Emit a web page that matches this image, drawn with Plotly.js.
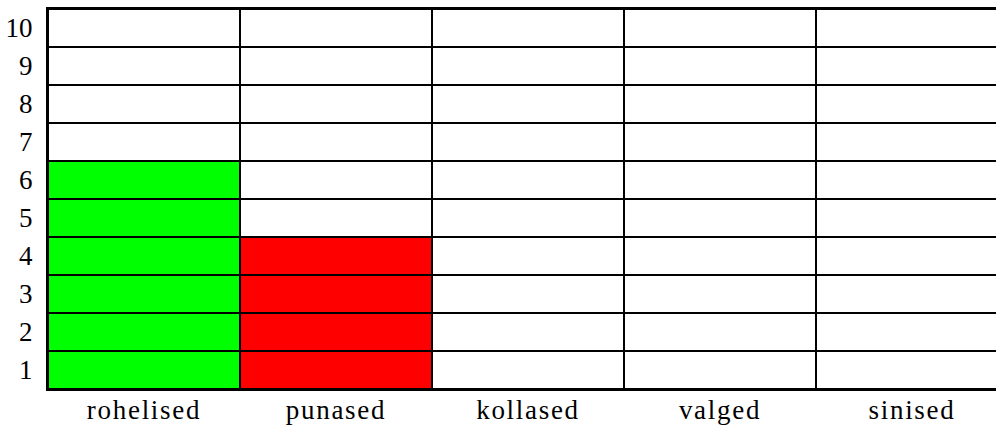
<!DOCTYPE html>
<html>
<head>
<meta charset="utf-8">
<script src="https://cdn.plot.ly/plotly-3.0.1.min.js"></script>
<style>
html,body{margin:0;padding:0;background:#fff;overflow:hidden;}
.xtick text{letter-spacing:1.7px;}
</style>
</head>
<body>
<div id="chart" style="width:996px;height:425px;"></div>
<script>
// Data
var categories = ['rohelised', 'punased', 'kollased', 'valged', 'sinised'];
var values = [6, 4, 0, 0, 0];
var colors = ['#00ff00', '#ff0000', '#ffff00', '#ffffff', '#0000ff'];
var rowLabels = ['1', '2', '3', '4', '5', '6', '7', '8', '9', '10'];

var traces = [];
for (var r = 0; r < rowLabels.length; r++) {
  var cellColors = categories.map(function (c, i) {
    return (r < values[i]) ? colors[i] : '#ffffff';
  });
  traces.push({
    type: 'bar',
    x: categories,
    y: categories.map(function () { return 1; }),
    marker: { color: cellColors, line: { color: '#000', width: 2 } },
    hoverinfo: 'skip',
    showlegend: false
  });
}

var layout = {
  width: 996,
  height: 425,
  margin: { l: 48, r: 0, t: 9, b: 36 },
  barmode: 'stack',
  bargap: 0,
  paper_bgcolor: '#fff',
  plot_bgcolor: '#fff',
  font: { family: 'Liberation Serif, Times New Roman, serif', size: 27, color: '#000' },
  xaxis: {
    type: 'category',
    range: [-0.5, 4.4375],
    showgrid: false,
    zeroline: false,
    showline: true,
    mirror: true,
    linecolor: '#000',
    linewidth: 2,
    ticks: '',
    ticklabelstandoff: -4,
    fixedrange: true
  },
  yaxis: {
    range: [0, 10],
    tickvals: rowLabels.map(function (l, i) { return i + 0.5; }),
    ticktext: rowLabels,
    showgrid: false,
    zeroline: false,
    showline: true,
    linecolor: '#000',
    linewidth: 2,
    ticks: '',
    ticklabelstandoff: 8,
    fixedrange: true
  }
};

Plotly.newPlot('chart', traces, layout, { displayModeBar: false, staticPlot: true });
</script>
</body>
</html>
